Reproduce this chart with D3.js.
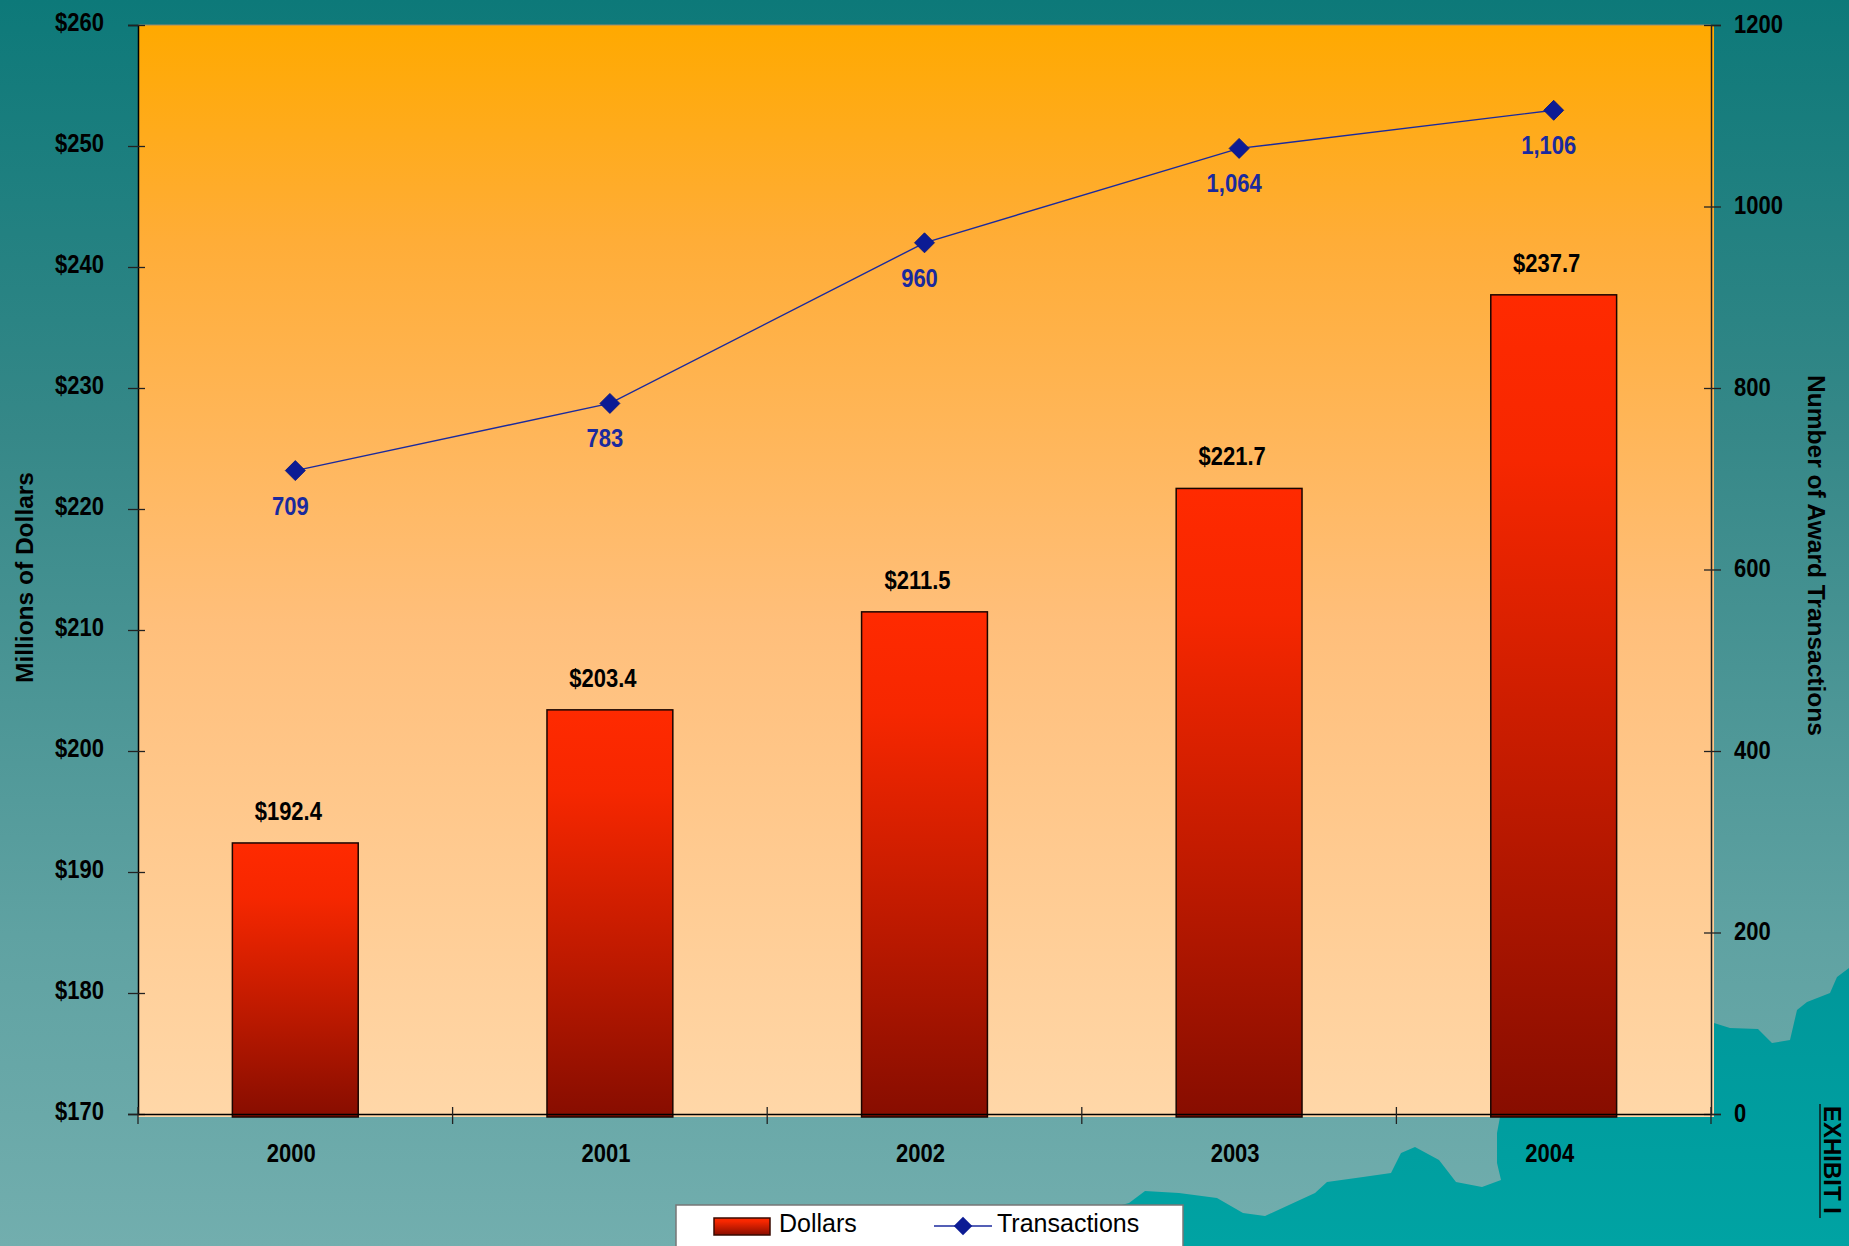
<!DOCTYPE html>
<html><head><meta charset="utf-8">
<script src="https://cdn.jsdelivr.net/npm/d3@7"></script>
<style>
html,body{margin:0;padding:0;background:#3a8a8a;}
svg{display:block;font-family:"Liberation Sans",Arial,sans-serif;}
</style></head>
<body>
<svg id="c" width="1849" height="1246"></svg>
<script>
// ---- data ----
const years = ["2000","2001","2002","2003","2004"];
const dollars = [192.4, 203.4, 211.5, 221.7, 237.7];
const transactions = [709, 783, 960, 1064, 1106];
const dollarLabels = ["$192.4","$203.4","$211.5","$221.7","$237.7"];
const transLabels = ["709","783","960","1,064","1,106"];
const leftTicks = [170,180,190,200,210,220,230,240,250,260];
const rightTicks = [0,200,400,600,800,1000,1200];
const leftTitle = "Millions of Dollars";
const rightTitle = "Number of Award Transactions";
const seriesNames = ["Dollars","Transactions"];
const exhibit = "EXHIBIT I";

const W = 1849, H = 1246;
const P = {l:138, r:1711, t:25, b:1114};
const SY = "scale(1,1.15)";
const svg = d3.select("#c");
const defs = svg.append("defs");

function grad(id, stops, x2="0", y2="1"){
  const g = defs.append("linearGradient").attr("id",id)
    .attr("x1","0").attr("y1","0").attr("x2",x2).attr("y2",y2);
  stops.forEach(s=>g.append("stop").attr("offset",s[0]).attr("stop-color",s[1]));
}
grad("bg", [[0,"#0d7979"],[0.35,"#368888"],[0.75,"#5fa2a2"],[1,"#72aeae"]]);
grad("mtn", [[0,"#00979a"],[1,"#00a3a3"]]);
grad("plot", [[0,"#ffa900"],[0.2,"#ffad38"],[0.55,"#ffbf7b"],[1,"#ffd7a8"]]);
grad("bar", [[0,"#ff2a00"],[0.2,"#f62700"],[0.6,"#c01a00"],[1,"#870d00"]]);

// background
svg.append("rect").attr("width",W).attr("height",H).attr("fill","url(#bg)");
const mountain = [[1095,1246],[1118,1206],[1129,1203],[1145,1191],[1179,1193],[1217,1198],[1243,1213],
 [1265,1216],[1315,1193],[1327,1182],[1363,1177],[1391,1173],[1401,1153],[1415,1147],[1439,1160],
 [1456,1182],[1482,1187],[1501,1180],[1497,1163],[1497,1133],[1500,1117],[1714,1117],[1714,1023],
 [1730,1028],[1758,1029],[1772,1043],[1790,1040],[1797,1010],[1807,1002],[1830,993],[1837,977],
 [1849,968],[1849,1246]];
svg.append("path").attr("d", d3.line()(mountain)).attr("fill","url(#mtn)");

// scales
const x = d3.scaleBand().domain(years).range([P.l,P.r]).padding(0);
const yL = d3.scaleLinear().domain([170,260]).range([P.b,P.t]);
const yR = d3.scaleLinear().domain([0,1200]).range([P.b,P.t]);
const bw = x.bandwidth()*0.4;
const cx = d => x(d)+x.bandwidth()/2;

// plot area
svg.append("rect").attr("x",P.l).attr("y",P.t).attr("width",P.r-P.l+3).attr("height",P.b-P.t+3)
  .attr("fill","url(#plot)");
svg.append("line").attr("x1",P.l).attr("x2",P.r).attr("y1",P.t).attr("y2",P.t)
  .attr("stroke","#9a8a70").attr("stroke-width",1);

// bars
svg.append("g").selectAll("rect").data(years).join("rect")
  .attr("x",(d)=>cx(d)-bw/2).attr("width",bw)
  .attr("y",(d,i)=>yL(dollars[i])).attr("height",(d,i)=>yL(170)-yL(dollars[i])+3)
  .attr("fill","url(#bar)").attr("stroke","#1a0500").attr("stroke-width",1.5);

// axes
const FF = "Liberation Sans, Arial, sans-serif";
const gl = svg.append("g").attr("transform",`translate(${P.l},0)`)
  .call(d3.axisLeft(yL).tickValues(leftTicks).tickSize(10).tickPadding(24).tickFormat(d=>"$"+d));
gl.select(".domain").attr("stroke","#000").attr("stroke-width",1.5);
gl.selectAll(".tick line").attr("x2",-10).attr("x1",7).attr("stroke","#222").attr("stroke-width",1.3);
gl.selectAll(".tick text").attr("font-size","22px").attr("font-weight","bold")
  .attr("fill","#000").attr("font-family",FF).attr("dy","0.22em").attr("transform",SY);

const gr = svg.append("g").attr("transform",`translate(${P.r},0)`)
  .call(d3.axisRight(yR).tickValues(rightTicks).tickSize(10).tickPadding(13).tickFormat(d3.format("d")));
gr.select(".domain").attr("stroke","#222").attr("stroke-width",1.5);
gr.selectAll(".tick line").attr("x1",-7).attr("x2",10).attr("stroke","#222").attr("stroke-width",1.3);
gr.selectAll(".tick text").attr("font-size","22px").attr("font-weight","bold")
  .attr("fill","#000").attr("font-family",FF).attr("dy","0.28em").attr("transform",SY);

const gb = svg.append("g").attr("transform",`translate(0,${P.b})`)
  .call(d3.axisBottom(x).tickSize(0).tickPadding(26));
gb.select(".domain").attr("stroke","#000").attr("stroke-width",1.5);
gb.selectAll(".tick text").attr("font-size","22px").attr("font-weight","bold")
  .attr("fill","#000").attr("dx",-4).attr("font-family",FF).attr("transform",SY);
// category separator ticks (crossing)
const bounds = years.map(d=>x(d)).concat([P.r]);
svg.append("g").selectAll("line").data(bounds).join("line")
  .attr("x1",d=>d).attr("x2",d=>d).attr("y1",P.b-7).attr("y2",P.b+10)
  .attr("stroke","#222").attr("stroke-width",1.3);

// bar labels
svg.append("g").selectAll("g").data(years).join("g")
  .attr("transform",(d,i)=>`translate(${cx(d)-7},${yL(dollars[i])-23})`)
  .append("text").attr("transform",SY)
  .attr("text-anchor","middle").attr("font-size","22px").attr("font-weight","bold").attr("fill","#000")
  .text((d,i)=>dollarLabels[i]);

// line
const pts = years.map((d,i)=>[cx(d), yR(transactions[i])]);
svg.append("path").attr("d", d3.line()(pts)).attr("fill","none")
  .attr("stroke","#1b2a9e").attr("stroke-width",1.4);
svg.append("g").selectAll("path").data(pts).join("path")
  .attr("d", d3.symbol(d3.symbolSquare, 200)())
  .attr("transform",p=>`translate(${p[0]},${p[1]}) rotate(45)`)
  .attr("fill","#0c1b94").attr("stroke","#0a1680").attr("stroke-width",0.8);
svg.append("g").selectAll("g").data(pts).join("g")
  .attr("transform",p=>`translate(${p[0]-5},${p[1]+44})`)
  .append("text").attr("transform",SY)
  .attr("text-anchor","middle").attr("font-size","22px").attr("font-weight","bold").attr("fill","#1a2a9e")
  .text((p,i)=>transLabels[i]);

// axis titles
svg.append("text").attr("transform",`translate(33,${(P.t+P.b)/2+8}) rotate(-90)`)
  .attr("text-anchor","middle").attr("font-size","24.5px").attr("font-weight","bold").attr("fill","#000")
  .text(leftTitle);
svg.append("text").attr("transform",`translate(1808,${(P.t+P.b)/2-14}) rotate(90)`)
  .attr("text-anchor","middle").attr("font-size","24.5px").attr("font-weight","bold").attr("fill","#000")
  .text(rightTitle);

// exhibit label
svg.append("text").attr("transform","translate(1824,1106) rotate(90)")
  .attr("text-anchor","start").attr("font-size","24px").attr("font-weight","bold").attr("fill","#000")
  .text(exhibit);
svg.append("line").attr("x1",1820).attr("x2",1820).attr("y1",1104).attr("y2",1218)
  .attr("stroke","#0a3a3a").attr("stroke-width",2);

// legend
const lg = svg.append("g");
lg.append("rect").attr("x",676).attr("y",1205).attr("width",507).attr("height",60)
  .attr("fill","#fff").attr("stroke","#777").attr("stroke-width",1.5);
lg.append("rect").attr("x",714).attr("y",1218).attr("width",56).attr("height",17)
  .attr("fill","url(#bar)").attr("stroke","#3a0a00").attr("stroke-width",1.5);
lg.append("text").attr("x",779).attr("y",1232).attr("font-size","25px").attr("fill","#000").text(seriesNames[0]);
lg.append("line").attr("x1",934).attr("x2",992).attr("y1",1226).attr("y2",1226)
  .attr("stroke","#1b2a9e").attr("stroke-width",1.4);
lg.append("path").attr("d", d3.symbol(d3.symbolSquare, 170)())
  .attr("transform","translate(963,1226) rotate(45)").attr("fill","#0c1b94");
lg.append("text").attr("x",997).attr("y",1232).attr("font-size","25px").attr("fill","#000").text(seriesNames[1]);
</script>
</body></html>
